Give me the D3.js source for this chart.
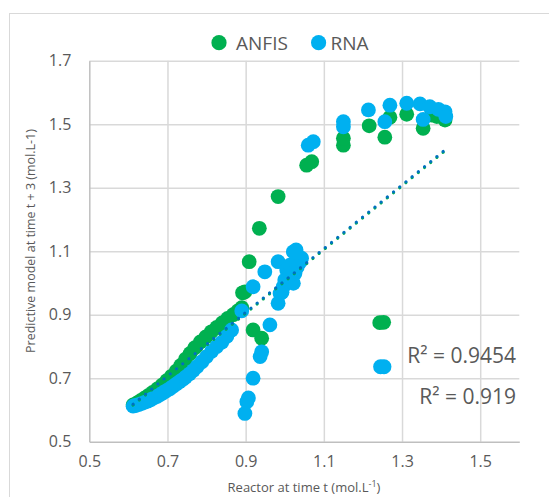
<!DOCTYPE html>
<html>
<head>
<meta charset="utf-8">
<script src="https://cdn.jsdelivr.net/npm/d3@7"></script>
<style>
  html, body { margin: 0; padding: 0; background: #fff; }
  svg { display: block; font-family: "Open Sans", "Noto Sans", sans-serif; }
</style>
</head>
<body>
<div id="chart"></div>
<script>
  // Axis ticks
  const xTicks = [0.5, 0.7, 0.9, 1.1, 1.3, 1.5];
  const yTicks = [0.5, 0.7, 0.9, 1.1, 1.3, 1.5, 1.7];

  // ANFIS predictions
  const anfisX = [0.612, 0.622, 0.632, 0.642, 0.652, 0.662, 0.674, 0.686, 0.698, 0.710,
    0.722, 0.734, 0.746, 0.758, 0.770, 0.784, 0.798, 0.812, 0.826, 0.840,
    0.854, 0.868, 0.880, 0.890, 0.892, 0.898, 0.909, 0.919, 0.941, 0.935,
    0.983, 1.056, 1.069, 1.150, 1.150, 1.216, 1.256, 1.269, 1.312, 1.354,
    1.376, 1.389, 1.410, 1.243, 1.253];
  const anfisY = [0.616, 0.622, 0.630, 0.638, 0.646, 0.655, 0.666, 0.678, 0.692, 0.706,
    0.722, 0.740, 0.760, 0.778, 0.796, 0.814, 0.830, 0.846, 0.860, 0.874,
    0.888, 0.900, 0.912, 0.922, 0.969, 0.972, 1.067, 0.852, 0.826, 1.172,
    1.272, 1.371, 1.382, 1.434, 1.456, 1.495, 1.459, 1.522, 1.531, 1.487,
    1.529, 1.524, 1.513, 0.875, 0.876];

  // RNA predictions
  const rnaX = [0.612, 0.618, 0.626, 0.634, 0.642, 0.650, 0.658, 0.666, 0.674, 0.682,
    0.690, 0.698, 0.706, 0.714, 0.722, 0.730, 0.738, 0.746, 0.756, 0.766,
    0.776, 0.788, 0.800, 0.813, 0.826, 0.839, 0.852, 0.864, 0.890, 0.919,
    0.898, 0.903, 0.907, 0.919, 0.937, 0.941, 0.962, 0.983, 0.988,
    0.949, 0.983, 1.022, 1.043, 1.026, 1.022, 0.996, 1.005, 1.039, 1.013,
    1.029, 0.993, 1.000, 1.011, 1.032,
    1.060, 1.073, 1.150, 1.150, 1.214, 1.256, 1.269, 1.312, 1.346, 1.354,
    1.371, 1.393, 1.410, 1.412, 1.245, 1.254];
  const rnaY = [0.612, 0.614, 0.617, 0.620, 0.624, 0.628, 0.633, 0.638, 0.643, 0.649,
    0.655, 0.661, 0.667, 0.674, 0.681, 0.688, 0.695, 0.703, 0.713, 0.724,
    0.737, 0.752, 0.768, 0.785, 0.800, 0.813, 0.832, 0.852, 0.912, 0.988,
    0.589, 0.626, 0.638, 0.700, 0.768, 0.783, 0.868, 0.936, 0.967,
    1.035, 1.067, 1.098, 1.078, 1.030, 0.999, 0.988, 1.041, 1.066, 1.056,
    1.104, 0.971, 1.009, 1.020, 1.050,
    1.434, 1.445, 1.508, 1.492, 1.545, 1.508, 1.560, 1.566, 1.564, 1.515,
    1.555, 1.547, 1.539, 1.524, 0.736, 0.736];

  // Linear trendline end points
  const anfisTrendX = [0.612, 1.410];
  const anfisTrendY = [0.615, 1.416];
  const rnaTrendX = [0.612, 1.410];
  const rnaTrendY = [0.618, 1.419];

  const r2Labels = ['R\u00b2 = 0.9454', 'R\u00b2 = 0.919'];

  const width = 549;
  const height = 497;
  const green = '#00B050';
  const blue = '#00B0F0';
  const textColor = '#595959';

  const svg = d3.select('#chart')
    .append('svg')
    .attr('width', width)
    .attr('height', height);

  // Chart area border (runs off the right and bottom edges)
  svg.append('rect')
    .attr('x', 9.5)
    .attr('y', 13.5)
    .attr('width', width + 20)
    .attr('height', height + 20)
    .attr('fill', '#fff')
    .attr('stroke', '#d9d9d9')
    .attr('stroke-width', 1);

  const x = d3.scaleLinear().domain([0.5, 1.6]).range([89.3, 519.3]);
  const y = d3.scaleLinear().domain([0.5, 1.7]).range([441.7, 60.7]);

  // Gridlines
  svg.append('g')
    .attr('class', 'grid-x')
    .attr('transform', 'translate(0,' + y(0.5) + ')')
    .call(d3.axisBottom(x).tickValues(xTicks.slice(1)).tickSize(y(1.7) - y(0.5)).tickFormat(''))
    .call(g => g.select('.domain').remove())
    .call(g => g.selectAll('line').attr('stroke', '#d9d9d9').attr('stroke-width', 1.5));

  svg.append('g')
    .attr('class', 'grid-y')
    .attr('transform', 'translate(' + x(0.5) + ',0)')
    .call(d3.axisLeft(y).tickValues(yTicks.slice(1)).tickSize(x(0.5) - x(1.6)).tickFormat(''))
    .call(g => g.select('.domain').remove())
    .call(g => g.selectAll('line').attr('stroke', '#d9d9d9').attr('stroke-width', 1.5));

  // Axes with labels
  svg.append('g')
    .attr('transform', 'translate(0,' + y(0.5) + ')')
    .call(d3.axisBottom(x).tickValues(xTicks).tickSize(0).tickPadding(14).tickFormat(d3.format('.1f')))
    .call(g => g.select('.domain').attr('stroke', '#bfbfbf').attr('stroke-width', 1.5))
    .call(g => g.selectAll('text')
      .attr('fill', textColor)
      .style('font-size', '16px')
      .style('font-family', '"Open Sans", sans-serif'));

  svg.append('g')
    .attr('transform', 'translate(' + x(0.5) + ',0)')
    .call(d3.axisLeft(y).tickValues(yTicks).tickSize(0).tickPadding(18).tickFormat(d3.format('.1f')))
    .call(g => g.select('.domain').attr('stroke', '#bfbfbf').attr('stroke-width', 1.5))
    .call(g => g.selectAll('text')
      .attr('fill', textColor)
      .style('font-size', '16px')
      .style('font-family', '"Open Sans", sans-serif'));

  // Series markers: ANFIS first, RNA drawn over it
  const anfis = anfisX.map((v, i) => ({ x: v, y: anfisY[i] }));
  const rna = rnaX.map((v, i) => ({ x: v, y: rnaY[i] }));
  const markerRadius = 7.4;

  svg.append('g')
    .attr('class', 'anfis')
    .selectAll('circle')
    .data(anfis)
    .enter()
    .append('circle')
    .attr('cx', d => x(d.x))
    .attr('cy', d => y(d.y))
    .attr('r', markerRadius)
    .attr('fill', green);

  svg.append('g')
    .attr('class', 'rna')
    .selectAll('circle')
    .data(rna)
    .enter()
    .append('circle')
    .attr('cx', d => x(d.x))
    .attr('cy', d => y(d.y))
    .attr('r', markerRadius)
    .attr('fill', blue);

  // Dotted trendlines
  const line = d3.line().x(d => x(d[0])).y(d => y(d[1]));

  svg.append('path')
    .datum(d3.zip(anfisTrendX, anfisTrendY))
    .attr('d', line)
    .attr('fill', 'none')
    .attr('stroke', green)
    .attr('stroke-width', 3)
    .attr('stroke-linecap', 'round')
    .attr('stroke-dasharray', '0.1 7.9');

  svg.append('path')
    .datum(d3.zip(rnaTrendX, rnaTrendY))
    .attr('d', line)
    .attr('fill', 'none')
    .attr('stroke', '#0070C0')
    .attr('stroke-width', 3)
    .attr('stroke-linecap', 'round')
    .attr('stroke-dasharray', '0.1 7.9');

  // R² labels
  svg.selectAll('.r2')
    .data(r2Labels)
    .enter()
    .append('text')
    .attr('class', 'r2')
    .attr('x', 516)
    .attr('y', (d, i) => [362.5, 403.5][i])
    .attr('text-anchor', 'end')
    .attr('fill', textColor)
    .style('font-size', '21px')
    .text(d => d);

  // Legend
  const legend = svg.append('g').attr('class', 'legend');
  const legendItems = [
    { name: 'ANFIS', color: green, cx: 219, tx: 236 },
    { name: 'RNA', color: blue, cx: 318.6, tx: 330.5 }
  ];
  legendItems.forEach(function(item) {
    legend.append('circle')
      .attr('cx', item.cx)
      .attr('cy', 42.7)
      .attr('r', 7.6)
      .attr('fill', item.color);
    legend.append('text')
      .attr('x', item.tx)
      .attr('y', 49.5)
      .attr('fill', textColor)
      .style('font-size', '19px')
      .text(item.name);
  });

  // Axis titles
  svg.append('text')
    .attr('transform', 'translate(35,241) rotate(-90)')
    .attr('text-anchor', 'middle')
    .attr('fill', textColor)
    .style('font-size', '12.5px')
    .text('Predictive model at time t + 3 (mol.L-1)');

  const xTitle = svg.append('text')
    .attr('x', 304)
    .attr('y', 492)
    .attr('text-anchor', 'middle')
    .attr('fill', textColor)
    .style('font-size', '13px')
    .text('Reactor at time t (mol.L');
  xTitle.append('tspan')
    .attr('dy', -5)
    .style('font-size', '9px')
    .text('-1');
  xTitle.append('tspan')
    .attr('dy', 5)
    .text(')');
</script>
</body>
</html>
